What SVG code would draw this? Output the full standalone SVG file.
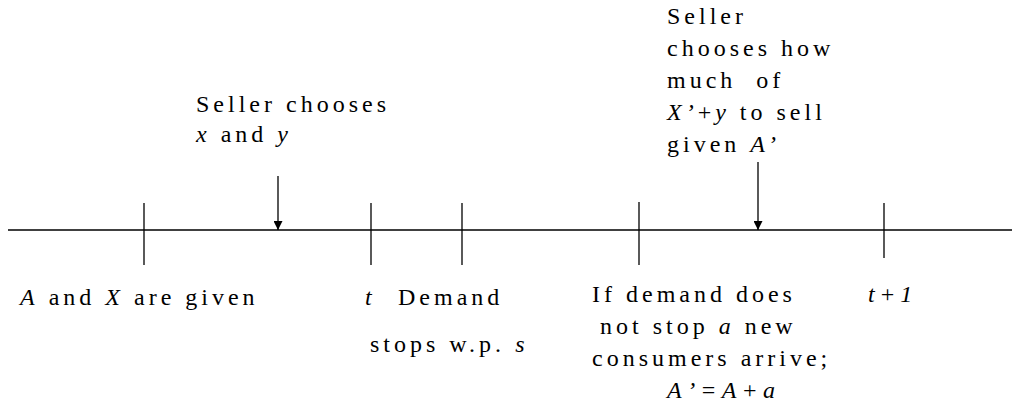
<svg xmlns="http://www.w3.org/2000/svg" width="1012" height="407" viewBox="0 0 1012 407">
<style>
.t{font-size:24px;fill:#000;letter-spacing:4px}
.i{font-style:italic}
line{stroke:#000;stroke-width:1.3}
</style>
<defs>
<marker id="ah" viewBox="0 0 10 10" refX="10" refY="5" markerWidth="9" markerHeight="9" markerUnits="userSpaceOnUse" orient="auto">
<path d="M0,0 L10,5 L0,10 Z" fill="#000"/>
</marker>
</defs>
<g id="connectors">
<line x1="8" y1="230" x2="1012" y2="230"/>
<line x1="278" y1="176" x2="278" y2="230" marker-end="url(#ah)"/>
<line x1="758" y1="162" x2="758" y2="230" marker-end="url(#ah)"/>
</g>
<g id="tick1"><line x1="144" y1="203" x2="144" y2="265"/></g>
<g id="tick2"><line x1="371" y1="203" x2="371" y2="265"/></g>
<g id="tick3"><line x1="462" y1="203" x2="462" y2="265"/></g>
<g id="tick4"><line x1="639" y1="202" x2="639" y2="265"/></g>
<g id="tick5"><line x1="884" y1="203" x2="884" y2="258"/></g>
<g font-family="Liberation Serif, Times New Roman, serif">
<g id="label-seller1">
<text class="t" x="196" y="112">Seller chooses</text>
<text class="t" x="196" y="142"><tspan class="i">x</tspan> and <tspan class="i">y</tspan></text>
</g>
<g id="label-seller2">
<text class="t" x="667" y="24">Seller</text>
<text class="t" x="667" y="56">chooses how</text>
<text class="t" x="667" y="88" xml:space="preserve">much  of</text>
<text class="t" x="667" y="120"><tspan class="i">X’</tspan>+<tspan class="i">y</tspan> to sell</text>
<text class="t" x="667" y="152">given <tspan class="i">A’</tspan></text>
</g>
<g id="label-given">
<text class="t" x="20" y="305"><tspan class="i">A</tspan> and <tspan class="i">X</tspan> are given</text>
</g>
<g id="label-t">
<text class="t i" x="365" y="305">t</text>
</g>
<g id="label-demand">
<text class="t" x="398" y="305">Demand</text>
<text class="t" x="370" y="352">stops w.p. <tspan class="i">s</tspan></text>
</g>
<g id="label-arrive">
<text class="t" x="592" y="302">If demand does</text>
<text class="t" x="600" y="334">not stop <tspan class="i">a</tspan> new</text>
<text class="t" x="592" y="366">consumers arrive;</text>
<text class="t" x="667" y="398" style="letter-spacing:6.5px"><tspan class="i">A’</tspan>=<tspan class="i">A</tspan>+<tspan class="i">a</tspan></text>
</g>
<g id="label-t1">
<text class="t" x="868" y="302" style="letter-spacing:6px"><tspan class="i">t</tspan>+<tspan class="i">1</tspan></text>
</g>
</g>
</svg>
